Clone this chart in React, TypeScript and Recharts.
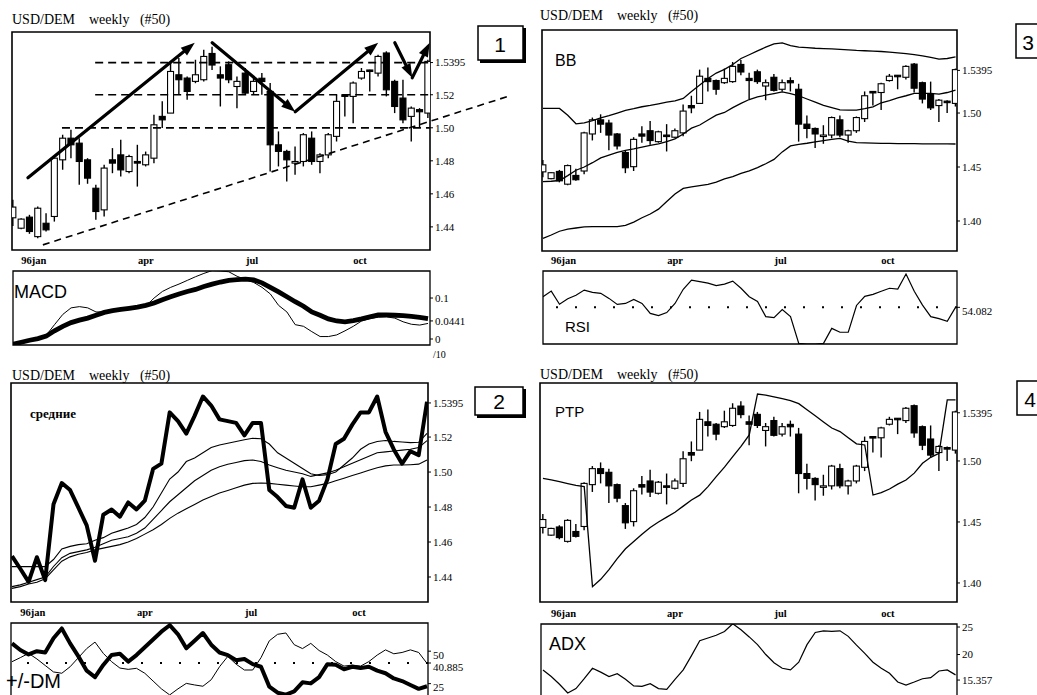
import React from 'react';
import { ComposedChart, Line, Bar, XAxis, YAxis, ReferenceLine, ReferenceArea } from 'recharts';

// ---------- data (weekly USD/DEM, 51 weeks) ----------
const weeks = Array.from({ length: 51 }, (_, i) => i);
const monthIdx = [2.5, 16, 28.8, 41.8];
const monthLabels = ['96jan', 'apr', 'jul', 'oct'];

const open = [1.4455, 1.4392, 1.4459, 1.4341, 1.4422, 1.4463, 1.4806, 1.4937, 1.4907, 1.4806, 1.4634, 1.4503, 1.4806, 1.4836, 1.4735, 1.4796, 1.4776, 1.4816, 1.5069, 1.5089, 1.5321, 1.5301, 1.5281, 1.5291, 1.5450, 1.5321, 1.5382, 1.5250, 1.5331, 1.5220, 1.5300, 1.5220, 1.4897, 1.4857, 1.4786, 1.4796, 1.4937, 1.4796, 1.4836, 1.4948, 1.5200, 1.5190, 1.5301, 1.5350, 1.5331, 1.5453, 1.5281, 1.5180, 1.5069, 1.5110, 1.5089];
const high = [1.4565, 1.4452, 1.4473, 1.4523, 1.4483, 1.4826, 1.4958, 1.4988, 1.4937, 1.4816, 1.4655, 1.4776, 1.4877, 1.4927, 1.4836, 1.4897, 1.4856, 1.5079, 1.5160, 1.5402, 1.5422, 1.5311, 1.5412, 1.5473, 1.5490, 1.5372, 1.5402, 1.5311, 1.5362, 1.5311, 1.5331, 1.5271, 1.4978, 1.4867, 1.4887, 1.4968, 1.4978, 1.4846, 1.4968, 1.5200, 1.5205, 1.5281, 1.5362, 1.5352, 1.5442, 1.5463, 1.5291, 1.5291, 1.5129, 1.5119, 1.5412];
const low = [1.4405, 1.4386, 1.4358, 1.4331, 1.4372, 1.4432, 1.4746, 1.4816, 1.4655, 1.4661, 1.4443, 1.4463, 1.4725, 1.4705, 1.4725, 1.4644, 1.4766, 1.4786, 1.4998, 1.5089, 1.5200, 1.5170, 1.5270, 1.5280, 1.5350, 1.5129, 1.5270, 1.5119, 1.5200, 1.5200, 1.5200, 1.4735, 1.4766, 1.4675, 1.4715, 1.4766, 1.4776, 1.4725, 1.4816, 1.4917, 1.5069, 1.5028, 1.5291, 1.5220, 1.5311, 1.5190, 1.5089, 1.5028, 1.4917, 1.5000, 1.5060];
const close = [1.4520, 1.4447, 1.4372, 1.4513, 1.4382, 1.4816, 1.4937, 1.4897, 1.4796, 1.4695, 1.4493, 1.4756, 1.4786, 1.4745, 1.4826, 1.4786, 1.4836, 1.5018, 1.5048, 1.5341, 1.5291, 1.5220, 1.5321, 1.5432, 1.5380, 1.5301, 1.5291, 1.5281, 1.5210, 1.5281, 1.5280, 1.4897, 1.4857, 1.4806, 1.4796, 1.4958, 1.4796, 1.4836, 1.4958, 1.5160, 1.5190, 1.5271, 1.5341, 1.5341, 1.5432, 1.5230, 1.5129, 1.5048, 1.5119, 1.5097, 1.5402];

const macd = [-0.013, -0.008, -0.003, 0.004, 0.009, 0.035, 0.060, 0.076, 0.079, 0.076, 0.066, 0.066, 0.070, 0.072, 0.074, 0.077, 0.080, 0.100, 0.116, 0.126, 0.134, 0.143, 0.152, 0.160, 0.167, 0.166, 0.164, 0.153, 0.145, 0.138, 0.126, 0.110, 0.082, 0.066, 0.035, 0.031, 0.018, 0.006, 0.006, 0.010, 0.020, 0.031, 0.044, 0.050, 0.053, 0.054, 0.051, 0.042, 0.036, 0.034, 0.038];
const macdSignal = [-0.013, -0.008, -0.003, 0.001, 0.007, 0.020, 0.031, 0.040, 0.046, 0.051, 0.058, 0.065, 0.069, 0.072, 0.075, 0.078, 0.082, 0.088, 0.096, 0.103, 0.110, 0.116, 0.121, 0.128, 0.134, 0.139, 0.143, 0.145, 0.146, 0.144, 0.137, 0.126, 0.115, 0.103, 0.091, 0.080, 0.066, 0.058, 0.049, 0.044, 0.042, 0.045, 0.049, 0.054, 0.059, 0.059, 0.058, 0.057, 0.055, 0.053, 0.050];

const rsi = [59.3, 62.1, 55.6, 58.3, 60, 62.6, 61.5, 61, 58.5, 55.5, 56, 58, 56, 51.1, 50, 51.5, 56, 63, 67.5, 66.8, 66, 64.8, 65.5, 67, 63.5, 59.3, 57, 49.5, 49, 53, 49.5, 36.3, 36, 36, 36.3, 43.7, 41.8, 41.8, 55, 59.5, 60.5, 62, 63.5, 63.1, 70.5, 62, 55.2, 49.5, 48.5, 47.2, 54.08];

const bbUpper = [1.5043, 1.5043, 1.5043, 1.4980, 1.4900, 1.4908, 1.4930, 1.4955, 1.4975, 1.5000, 1.5025, 1.5040, 1.5058, 1.5070, 1.5085, 1.5100, 1.5112, 1.5135, 1.5200, 1.5259, 1.5320, 1.5370, 1.5405, 1.5450, 1.5505, 1.5540, 1.5575, 1.5610, 1.5640, 1.5650, 1.5625, 1.5610, 1.5605, 1.5600, 1.5597, 1.5594, 1.5590, 1.5585, 1.5580, 1.5577, 1.5574, 1.5570, 1.5565, 1.5558, 1.5550, 1.5540, 1.5530, 1.5515, 1.5500, 1.5505, 1.5520];
const bbMiddle = [1.4364, 1.4368, 1.4375, 1.4420, 1.4470, 1.4500, 1.4540, 1.4585, 1.4610, 1.4635, 1.4655, 1.4668, 1.4685, 1.4700, 1.4715, 1.4735, 1.4760, 1.4805, 1.4860, 1.4889, 1.4935, 1.4980, 1.5005, 1.5050, 1.5090, 1.5125, 1.5150, 1.5165, 1.5180, 1.5195, 1.5180, 1.5160, 1.5130, 1.5100, 1.5070, 1.5050, 1.5030, 1.5027, 1.5027, 1.5040, 1.5058, 1.5095, 1.5115, 1.5140, 1.5160, 1.5182, 1.5182, 1.5182, 1.5175, 1.5190, 1.5213];
const bbLower = [1.3839, 1.3870, 1.3905, 1.3925, 1.3935, 1.3945, 1.3947, 1.3947, 1.3947, 1.3947, 1.3960, 1.3990, 1.4030, 1.4065, 1.4110, 1.4180, 1.4250, 1.4302, 1.4315, 1.4328, 1.4340, 1.4360, 1.4390, 1.4410, 1.4440, 1.4465, 1.4495, 1.4530, 1.4570, 1.4640, 1.4695, 1.4710, 1.4720, 1.4733, 1.4745, 1.4755, 1.4765, 1.4740, 1.4725, 1.4723, 1.4721, 1.4719, 1.4718, 1.4717, 1.4716, 1.4716, 1.4715, 1.4715, 1.4714, 1.4714, 1.4713];

const maFast = [1.4459, 1.4459, 1.4459, 1.4459, 1.4459, 1.4500, 1.4560, 1.4575, 1.4585, 1.4590, 1.4610, 1.4625, 1.4650, 1.4665, 1.4680, 1.4700, 1.4740, 1.4800, 1.4880, 1.4960, 1.5000, 1.5060, 1.5080, 1.5110, 1.5140, 1.5155, 1.5165, 1.5175, 1.5185, 1.5193, 1.5190, 1.5160, 1.5110, 1.5080, 1.5050, 1.5020, 1.4990, 1.4980, 1.4985, 1.5000, 1.5040, 1.5080, 1.5130, 1.5160, 1.5175, 1.5180, 1.5175, 1.5172, 1.5168, 1.5170, 1.5221];
const maMid = [1.4345, 1.4355, 1.4370, 1.4385, 1.4400, 1.4460, 1.4510, 1.4535, 1.4545, 1.4555, 1.4570, 1.4590, 1.4610, 1.4620, 1.4630, 1.4650, 1.4680, 1.4730, 1.4780, 1.4830, 1.4870, 1.4910, 1.4950, 1.4980, 1.5010, 1.5030, 1.5045, 1.5055, 1.5065, 1.5069, 1.5060, 1.5040, 1.5025, 1.5010, 1.5000, 1.4990, 1.4975, 1.4985, 1.4995, 1.5010, 1.5030, 1.5050, 1.5070, 1.5090, 1.5110, 1.5115, 1.5120, 1.5125, 1.5130, 1.5140, 1.5180];
const maSlow = [1.4335, 1.4345, 1.4360, 1.4370, 1.4390, 1.4440, 1.4490, 1.4515, 1.4530, 1.4540, 1.4555, 1.4565, 1.4575, 1.4585, 1.4600, 1.4620, 1.4645, 1.4670, 1.4700, 1.4735, 1.4765, 1.4790, 1.4815, 1.4840, 1.4860, 1.4880, 1.4895, 1.4910, 1.4925, 1.4935, 1.4937, 1.4935, 1.4930, 1.4925, 1.4920, 1.4916, 1.4916, 1.4925, 1.4935, 1.4950, 1.4965, 1.4980, 1.4995, 1.5010, 1.5025, 1.5035, 1.5040, 1.5040, 1.5042, 1.5045, 1.5069];

const dmPlus = [56, 50.9, 47.5, 50, 49, 60, 67.5, 56, 46, 35, 30, 39.4, 47, 48, 42, 47, 53, 59, 65, 70, 63, 52.2, 58, 64, 55, 49, 47, 43, 44, 40, 38, 22.7, 18, 16.5, 19, 26, 25.2, 30, 40, 39.5, 36, 38, 37, 38, 35, 33, 29, 27, 24, 21, 23];
const dmMinus = [41.9, 45, 48.3, 44, 39, 34, 33, 38, 45, 52, 57, 48.3, 41.9, 37, 36, 36.8, 33, 27, 21, 16.3, 21, 25.2, 24, 23, 28, 38, 46, 40, 35.5, 35.5, 45, 58, 63, 64, 55, 52, 56, 50.5, 47, 42, 38.5, 39.3, 38.5, 42, 47, 51, 48, 49, 51, 49, 40.6];

const ptp = [1.4858, 1.4845, 1.4830, 1.4815, 1.4800, 1.4790, 1.3970, 1.4030, 1.4110, 1.4200, 1.4280, 1.4340, 1.4400, 1.4455, 1.4500, 1.4540, 1.4580, 1.4630, 1.4680, 1.4720, 1.4790, 1.4872, 1.4950, 1.5036, 1.5120, 1.5213, 1.5549, 1.5540, 1.5525, 1.5510, 1.5495, 1.5470, 1.5420, 1.5370, 1.5320, 1.5270, 1.5241, 1.5190, 1.5140, 1.5131, 1.4721, 1.4740, 1.4770, 1.4810, 1.4844, 1.4900, 1.4981, 1.5030, 1.5063, 1.5500, 1.5500];
const adx = [17.2, 16.0, 14.6, 13.0, 13.8, 15.6, 17.5, 16.8, 16.0, 16.5, 15.5, 14.3, 14.2, 14.7, 13.8, 13.67, 15.5, 17.2, 19.8, 22.5, 23.0, 23.5, 24.2, 25.6, 24.5, 23.2, 21.8, 20.0, 18.5, 17.5, 17.2, 18.6, 21.8, 24.0, 24.3, 24.2, 24.3, 23.3, 21.7, 20.2, 18.6, 17.5, 16.58, 15.0, 14.45, 15.0, 15.6, 15.8, 17.0, 17.2, 16.3];

const priceTicksA = [1.5395, 1.52, 1.5, 1.48, 1.46, 1.44];
const priceLabelsA = ['1.5395', '1.52', '1.50', '1.48', '1.46', '1.44'];
const priceTicksB = [1.5395, 1.5, 1.45, 1.4];
const priceLabelsB = ['1.5395', '1.50', '1.45', '1.40'];
const macdTicks = [0.1, 0.0441, 0];
const macdLabels = ['0.1', '0.0441', '0'];
const rsiTicks = [54.082];
const rsiLabels = ['54.082'];
const dmTicks = [50, 40.885, 25];
const dmLabels = ['50', '40.885', '25'];
const adxTicks = [25, 20, 15.357];
const adxLabels = ['25', '20', '15.357'];

const rows = weeks.map((i) => ({
  i, o: open[i], h: high[i], l: low[i], c: close[i],
  macd: macd[i], sig: macdSignal[i], rsi: rsi[i],
  bbU: bbUpper[i], bbM: bbMiddle[i], bbL: bbLower[i],
  ma1: maFast[i], ma2: maMid[i], ma3: maSlow[i],
  dmP: dmPlus[i], dmM: dmMinus[i], ptp: ptp[i], adx: adx[i],
}));

// ---------- drawing helpers ----------
const SERIF = "'Liberation Serif', 'Times New Roman', serif";
const SANS = "'Liberation Sans', Arial, sans-serif";

const Candle = (props: any) => {
  const { x, y, width, height, payload } = props;
  if (x == null || y == null) return null;
  const top = Math.min(y, y + height);
  const hgt = Math.abs(height);
  const { o, h, l, c } = payload;
  const rng = h - l;
  const py = (v: number) => (rng > 0 ? top + ((h - v) / rng) * hgt : top);
  const cx = x + width / 2;
  const bTop = py(Math.max(o, c));
  const bBot = py(Math.min(o, c));
  const up = c >= o;
  return (
    <g>
      <line x1={cx} x2={cx} y1={top} y2={top + hgt} stroke="#000" strokeWidth={1.4} />
      <rect x={x} y={bTop} width={width} height={Math.max(bBot - bTop, 1.5)} fill={up ? '#fff' : '#000'} stroke="#000" strokeWidth={1.1} />
    </g>
  );
};

const arrowShape = (head: boolean) => (p: any) => {
  const { x1, y1, x2, y2 } = p;
  if (x1 == null) return <g />;
  const a = Math.atan2(y2 - y1, x2 - x1);
  const L = 14, W = 5;
  const bx = x2 - L * Math.cos(a);
  const by = y2 - L * Math.sin(a);
  const pts = `${x2},${y2} ${bx + W * Math.sin(a)},${by - W * Math.cos(a)} ${bx - W * Math.sin(a)},${by + W * Math.cos(a)}`;
  return (
    <g>
      <line x1={x1} y1={y1} x2={head ? bx : x2} y2={head ? by : y2} stroke="#000" strokeWidth={3.2} strokeLinecap="round" />
      {head && <polygon points={pts} fill="#000" />}
    </g>
  );
};

function makeTick(ticks: number[], labels: string[], shift = 0) {
  return (props: any) => {
    const { x, y, payload } = props;
    const k = ticks.findIndex((t) => Math.abs(t - payload.value) < 1e-9);
    return (
      <text x={x} y={y + shift} dy="0.35em" textAnchor="start" fontSize={11} fontFamily={SERIF} fill="#000">
        {k >= 0 ? labels[k] : ''}
      </text>
    );
  };
}

type PanelProps = {
  left: number; top: number; width: number; height: number;
  margin: { top: number; right: number; bottom: number; left: number };
  xDomain: [number, number]; yDomain: [number, number];
  yTicks: number[]; yLabels: string[]; tickShift?: number;
  months?: boolean; frameWidth?: number; children?: React.ReactNode;
};

function Panel(p: PanelProps) {
  return (
    <div style={{ position: 'absolute', left: p.left, top: p.top }}>
      <ComposedChart width={p.width} height={p.height} data={rows} margin={p.margin}>
        <XAxis
          dataKey="i" type="number" domain={p.xDomain} allowDataOverflow hide={!p.months}
          orientation="top" ticks={monthIdx} interval={0}
          tickFormatter={(v: number) => monthLabels[monthIdx.indexOf(v)] ?? ''}
          axisLine={false} tickLine={false} height={14} tickMargin={1}
          tick={{ fontSize: 10.5, fontFamily: SERIF, fontWeight: 700, fill: '#000' }}
        />
        <YAxis
          orientation="right" type="number" domain={p.yDomain} allowDataOverflow
          ticks={p.yTicks} interval={0} width={45} axisLine={false}
          tickSize={3} tickLine={{ stroke: '#000' }}
          tick={makeTick(p.yTicks, p.yLabels, p.tickShift ?? 0)}
        />
        <ReferenceArea
          x1={p.xDomain[0]} x2={p.xDomain[1]} y1={p.yDomain[0]} y2={p.yDomain[1]}
          fill="none" fillOpacity={0} stroke="#000" strokeWidth={p.frameWidth ?? 1.6} ifOverflow="visible"
        />
        {p.children}
      </ComposedChart>
    </div>
  );
}

const candles = (
  <Bar dataKey={(d: any) => [d.l, d.h]} shape={Candle} barSize={6} isAnimationActive={false} />
);

const TITLE = 'USD/DEM    weekly   (#50)';

export default function App() {
  const P1X: [number, number] = [-0.12, 50.24];
  const P3X: [number, number] = [-0.12, 50.18];
  const P2X: [number, number] = [-0.12, 50.12];
  const P4X: [number, number] = [-0.36, 50.18];
  const titleStyle = { whiteSpace: 'pre' as const };
  return (
    <div style={{ position: 'absolute', left: 0, top: 0, width: 1037, height: 695, overflow: 'hidden', background: '#fff' }}>
      {/* Panel 1: candles with trend annotations */}
      <Panel left={0} top={20} width={520} height={240} margin={{ top: 12, left: 12, bottom: 10, right: 45 }}
        xDomain={P1X} yDomain={[1.426, 1.558]} yTicks={priceTicksA} yLabels={priceLabelsA}>
        <ReferenceLine segment={[{ x: 9.9, y: 1.5395 }, { x: 50.24, y: 1.5395 }]} stroke="#000" strokeWidth={1.7} strokeDasharray="8 5" ifOverflow="visible" />
        <ReferenceLine segment={[{ x: 9.9, y: 1.52 }, { x: 50.24, y: 1.52 }]} stroke="#000" strokeWidth={1.7} strokeDasharray="8 5" ifOverflow="visible" />
        <ReferenceLine segment={[{ x: 5.9, y: 1.5 }, { x: 50.24, y: 1.5 }]} stroke="#000" strokeWidth={1.7} strokeDasharray="8 5" ifOverflow="visible" />
        <ReferenceLine segment={[{ x: 3.6, y: 1.4291 }, { x: 59.5, y: 1.5188 }]} stroke="#000" strokeWidth={1.6} strokeDasharray="7 5" ifOverflow="visible" />
        {candles}
        <ReferenceLine segment={[{ x: 1.8, y: 1.4697 }, { x: 21.9, y: 1.5515 }]} shape={arrowShape(true)} ifOverflow="visible" />
        <ReferenceLine segment={[{ x: 24.0, y: 1.5515 }, { x: 34.0, y: 1.5097 }]} shape={arrowShape(true)} ifOverflow="visible" />
        <ReferenceLine segment={[{ x: 34.0, y: 1.5097 }, { x: 44.0, y: 1.5515 }]} shape={arrowShape(true)} ifOverflow="visible" />
        <ReferenceLine segment={[{ x: 46.0, y: 1.5515 }, { x: 48.1, y: 1.5303 }]} shape={arrowShape(true)} ifOverflow="visible" />
        <ReferenceLine segment={[{ x: 48.1, y: 1.5303 }, { x: 50.2, y: 1.5515 }]} shape={arrowShape(true)} ifOverflow="visible" />
      </Panel>

      {/* Panel 1 sub: MACD */}
      <Panel left={0} top={252} width={480} height={100} margin={{ top: 5, left: 13, bottom: 7, right: 5 }} months frameWidth={1.3}
        xDomain={[0, 50.24]} yDomain={[-0.0146, 0.1659]} yTicks={macdTicks} yLabels={macdLabels}>
        <Line type="linear" dataKey="sig" stroke="#000" strokeWidth={4.8} dot={false} isAnimationActive={false} />
        <Line type="linear" dataKey="macd" stroke="#000" strokeWidth={1} dot={false} isAnimationActive={false} />
      </Panel>

      {/* Panel 3: Bollinger bands */}
      <Panel left={520} top={20} width={517} height={240} margin={{ top: 10, left: 22, bottom: 9, right: 35 }}
        xDomain={P3X} yDomain={[1.3722, 1.5769]} yTicks={priceTicksB} yLabels={priceLabelsB}>
        {candles}
        <Line type="linear" dataKey="bbU" stroke="#000" strokeWidth={1.3} dot={false} isAnimationActive={false} />
        <Line type="linear" dataKey="bbM" stroke="#000" strokeWidth={1.3} dot={false} isAnimationActive={false} />
        <Line type="linear" dataKey="bbL" stroke="#000" strokeWidth={1.3} dot={false} isAnimationActive={false} />
      </Panel>

      {/* Panel 3 sub: RSI */}
      <Panel left={520} top={252} width={517} height={100} margin={{ top: 5, left: 23, bottom: 8, right: 35 }} months frameWidth={1.3}
        xDomain={[0, 50.18]} yDomain={[36, 72]} yTicks={rsiTicks} yLabels={rsiLabels} tickShift={4}>
        <ReferenceLine y={54.082} stroke="#000" strokeWidth={2} strokeDasharray="2 17" />
        <Line type="linear" dataKey="rsi" stroke="#000" strokeWidth={1.2} dot={false} isAnimationActive={false} />
      </Panel>

      {/* Panel 2: moving averages */}
      <Panel left={0} top={373} width={480} height={240} margin={{ top: 10, left: 11, bottom: 11, right: 7 }}
        xDomain={P2X} yDomain={[1.4257, 1.5509]} yTicks={priceTicksA} yLabels={priceLabelsA}>
        <Line type="linear" dataKey="ma1" stroke="#000" strokeWidth={1.1} dot={false} isAnimationActive={false} />
        <Line type="linear" dataKey="ma2" stroke="#000" strokeWidth={1.1} dot={false} isAnimationActive={false} />
        <Line type="linear" dataKey="ma3" stroke="#000" strokeWidth={1.1} dot={false} isAnimationActive={false} />
        <Line type="linear" dataKey="c" stroke="#000" strokeWidth={4} dot={false} isAnimationActive={false} strokeLinejoin="round" />
      </Panel>

      {/* Panel 2 sub: +/-DM */}
      <Panel left={0} top={604} width={480} height={100} margin={{ top: 5, left: 11, bottom: 4, right: 7 }} months frameWidth={1.3}
        xDomain={P2X} yDomain={[12.4, 71.7]} yTicks={dmTicks} yLabels={dmLabels} tickShift={4}>
        <ReferenceLine y={40.885} stroke="#000" strokeWidth={2} strokeDasharray="2 17" />
        <Line type="linear" dataKey="dmM" stroke="#000" strokeWidth={1} dot={false} isAnimationActive={false} />
        <Line type="linear" dataKey="dmP" stroke="#000" strokeWidth={4} dot={false} isAnimationActive={false} strokeLinejoin="round" />
      </Panel>

      {/* Panel 4: PTP */}
      <Panel left={520} top={373} width={517} height={240} margin={{ top: 10, left: 20, bottom: 11, right: 35 }}
        xDomain={P4X} yDomain={[1.3844, 1.5639]} yTicks={priceTicksB} yLabels={priceLabelsB}>
        {candles}
        <Line type="linear" dataKey="ptp" stroke="#000" strokeWidth={1.3} dot={false} isAnimationActive={false} />
      </Panel>

      {/* Panel 4 sub: ADX */}
      <Panel left={520} top={605} width={517} height={100} margin={{ top: 5, left: 21, bottom: 5, right: 35 }} months frameWidth={1.3}
        xDomain={[-0.24, 50.18]} yDomain={[11.73, 25.55]} yTicks={adxTicks} yLabels={adxLabels}>
        <Line type="linear" dataKey="adx" stroke="#000" strokeWidth={1.2} dot={false} isAnimationActive={false} />
      </Panel>

      {/* titles, labels and numbered boxes */}
      <svg width={1037} height={695} style={{ position: 'absolute', left: 0, top: 0, pointerEvents: 'none' }}>
        <g fontFamily={SERIF} fontSize={14} fill="#000">
          <text x={12} y={24} xmlSpace="preserve" style={titleStyle}>{TITLE}</text>
          <text x={540} y={20} xmlSpace="preserve" style={titleStyle}>{TITLE}</text>
          <text x={12} y={380} xmlSpace="preserve" style={titleStyle}>{TITLE}</text>
          <text x={540} y={379} xmlSpace="preserve" style={titleStyle}>{TITLE}</text>
        </g>
        <text x={433} y={358} fontFamily={SERIF} fontSize={10} fill="#000">/10</text>
        <g fontFamily={SANS} fill="#000">
          <text x={14} y={298} fontSize={18}>MACD</text>
          <text x={555} y={66} fontSize={16}>BB</text>
          <text x={565} y={332} fontSize={15}>RSI</text>
          <text x={555} y={417} fontSize={15}>PTP</text>
          <text x={549} y={650} fontSize={18}>ADX</text>
          <text x={6} y={688} fontSize={20}>+/-DM</text>
        </g>
        <text x={30} y={418} fontFamily={SERIF} fontSize={13} fontWeight={700} fill="#000">средние</text>
        <g fill="none" stroke="#000">
          <rect x={478} y={26} width={45} height={34} strokeWidth={1.5} />
          <path d="M480 61.5 H524.5 V28" strokeWidth={3} />
          <rect x={475} y={387} width={48} height={28} strokeWidth={1.5} />
          <path d="M477 416.5 H524.5 V389" strokeWidth={3} />
          <rect x={1016} y={24} width={30} height={34} strokeWidth={1.5} />
          <rect x={1017} y={381} width={30} height={34} strokeWidth={1.5} />
        </g>
        <g fontFamily={SANS} fontSize={21} fill="#000" textAnchor="middle">
          <text x={500} y={52}>1</text>
          <text x={499} y={409}>2</text>
          <text x={1028} y={50}>3</text>
          <text x={1030} y={407}>4</text>
        </g>
      </svg>
    </div>
  );
}
